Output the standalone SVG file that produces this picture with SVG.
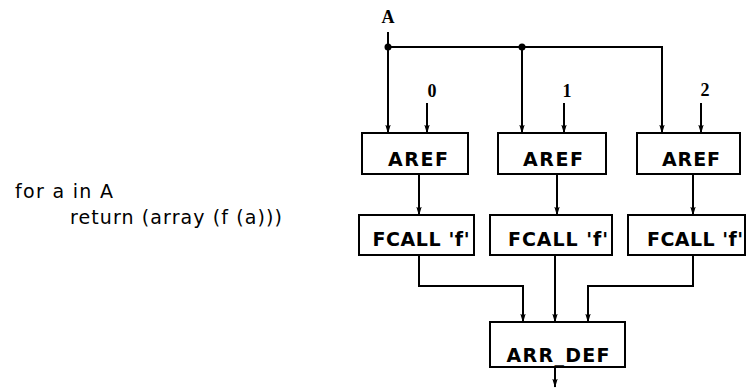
<svg xmlns="http://www.w3.org/2000/svg" width="752" height="392" viewBox="0 0 752 392">
<style>
.box{fill:#fff;stroke:#000;stroke-width:2}
.lbl{font-family:"DejaVu Sans","Liberation Sans",sans-serif;font-weight:bold;font-size:19px;fill:#000;text-anchor:middle}
.code{font-family:"DejaVu Sans","Liberation Sans",sans-serif;font-size:19px;fill:#000}
.num{font-family:"Liberation Serif",serif;font-weight:bold;font-size:18px;fill:#000;text-anchor:middle}
.ln{fill:none;stroke:#000;stroke-width:2}
</style>
<defs>
<marker id="arr" markerUnits="userSpaceOnUse" markerWidth="9" markerHeight="14" refX="13" refY="4.5" orient="auto" viewBox="0 0 14 9">
<path d="M0,0.3 L14,4.5 L0,8.7 L3,4.5 Z" fill="#000"/>
</marker>
</defs>
<text class="code" x="15" y="198" textLength="98">for a in A</text>
<text class="code" x="70" y="224" textLength="212">return (array (f (a)))</text>
<text class="num" x="388" y="23" font-size="16">A</text>
<text class="num" x="432" y="97">0</text>
<text class="num" x="567" y="97">1</text>
<text class="num" x="705" y="96">2</text>
<g id="connectors">
<path class="ln" d="M388,32 V47 H662 V133" marker-end="url(#arr)"/>
<path class="ln" d="M388,47 V133" marker-end="url(#arr)"/>
<path class="ln" d="M522,47 V133" marker-end="url(#arr)"/>
<circle cx="388" cy="47" r="3.5" fill="#000"/>
<circle cx="522" cy="47" r="3.5" fill="#000"/>
<path class="ln" d="M427,103 V133" marker-end="url(#arr)"/>
<path class="ln" d="M564,103 V133" marker-end="url(#arr)"/>
<path class="ln" d="M701,103 V133" marker-end="url(#arr)"/>
<path class="ln" d="M419,174 V215" marker-end="url(#arr)"/>
<path class="ln" d="M557,174 V215" marker-end="url(#arr)"/>
<path class="ln" d="M693,174 V215" marker-end="url(#arr)"/>
<path class="ln" d="M419,255 V286 H523 V322" marker-end="url(#arr)"/>
<path class="ln" d="M555,255 V322" marker-end="url(#arr)"/>
<path class="ln" d="M693,255 V286 H588 V322" marker-end="url(#arr)"/>
<path class="ln" d="M555,367 V387" marker-end="url(#arr)"/>
</g>
<g id="aref0"><rect class="box" x="362" y="133" width="106" height="41"/><text class="lbl" x="418" y="166" textLength="60">AREF</text></g>
<g id="aref1"><rect class="box" x="498" y="133" width="108" height="41"/><text class="lbl" x="553" y="166" textLength="60">AREF</text></g>
<g id="aref2"><rect class="box" x="637" y="133" width="103" height="41"/><text class="lbl" x="691" y="166" textLength="58">AREF</text></g>
<g id="fcall0"><rect class="box" x="359" y="215" width="115" height="40"/><text class="lbl" x="421" y="246" textLength="97">FCALL 'f'</text></g>
<g id="fcall1"><rect class="box" x="490" y="215" width="122" height="40"/><text class="lbl" x="558" y="246" textLength="100">FCALL 'f'</text></g>
<g id="fcall2"><rect class="box" x="628" y="215" width="117" height="40"/><text class="lbl" x="695" y="246" textLength="96">FCALL 'f'</text></g>
<g id="arrdef"><rect class="box" x="490" y="322" width="135" height="45"/><text class="lbl" x="558" y="362" textLength="103">ARR_DEF</text></g>
</svg>
